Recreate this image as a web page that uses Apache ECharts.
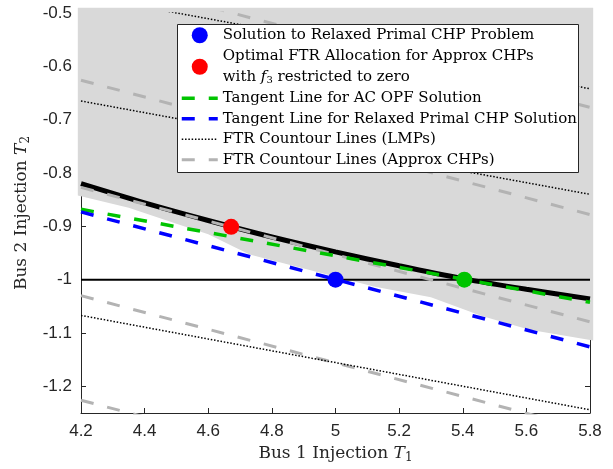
<!DOCTYPE html>
<html><head><meta charset="utf-8">
<script src="https://cdn.jsdelivr.net/npm/echarts@6/dist/echarts.min.js"></script>
<style>html,body{margin:0;padding:0;background:#fff}#c{width:613px;height:469px}</style>
</head><body><div id="c"></div>
<script>
// ---- data ----
const xTicks = [4.2, 4.4, 4.6, 4.8, 5.0, 5.2, 5.4, 5.6, 5.8];
const yTicks = [-1.2, -1.1, -1.0, -0.9, -0.8, -0.7, -0.6, -0.5];
const xLimits = [4.2, 5.8];
const yLimits = [-1.25, -0.5];

// feasible-region boundary (black curve)
const curveX = [4.2, 4.4, 4.6, 4.8, 5.0, 5.2, 5.4, 5.6, 5.8];
const curveY = [-0.820, -0.856, -0.889, -0.920, -0.948, -0.974, -0.998, -1.018, -1.036];

// straight lines: values at x = 4.2 and x = 5.8
const tangentAC = [-0.868, -1.0425];
const tangentRelaxed = [-0.873, -1.126];
const chpContours = [[-0.425, -0.677], [-0.626, -0.878], [-0.827, -1.079], [-1.030, -1.282], [-1.226, -1.478]];
const lmpContours = [[-0.467, -0.642], [-0.665, -0.840], [-1.067, -1.244]];
const refLineY = -1.0;

// points
const relaxedPoint = [5.0, -1.0];
const ftrPoint = [4.672, -0.901];
const acPoint = [5.405, -1.0];

// shaded region (lower boundary, top edge)
const regionX = [4.19, 4.35, 4.50, 4.60, 4.73, 4.94, 5.12, 5.30, 5.46, 5.61, 5.81];
const regionLowY = [-0.842, -0.865, -0.895, -0.915, -0.953, -0.985, -1.013, -1.033, -1.068, -1.094, -1.114];
const regionTopY = -0.49;

// legend names
const N_RELAX = 'Solution to Relaxed Primal CHP Problem';
const N_FTR = 'Optimal FTR Allocation for Approx CHPs';
const N_TAC = 'Tangent Line for AC OPF Solution';
const N_TREL = 'Tangent Line for Relaxed Primal CHP Solution';
const N_LMP = 'FTR Countour Lines (LMPs)';
const N_CHP = 'FTR Countour Lines (Approx CHPs)';

// ---- chart ----
const SERIF = 'DejaVu Serif';
const SANS = 'Liberation Sans';
const AX = '#262626';

function seg(v) { return [[xLimits[0], v[0]], [xLimits[1], v[1]]]; }

const series = [];
series.push({
  type: 'custom', silent: true, z: 1, data: [0],
  renderItem: function (params, api) {
    const pts = [api.coord([regionX[0], regionTopY]), api.coord([regionX[regionX.length - 1], regionTopY])];
    for (let i = regionX.length - 1; i >= 0; i--) pts.push(api.coord([regionX[i], regionLowY[i]]));
    return { type: 'polygon', shape: { points: pts }, style: { fill: '#d9d9d9' } };
  }
});
series.push({
  type: 'line', silent: true, z: 2, symbol: 'none', smooth: 0.3,
  data: curveX.map((x, i) => [x, curveY[i]]),
  lineStyle: { color: '#000', width: 5 }
});
series.push({
  type: 'line', silent: true, z: 2, symbol: 'none',
  data: [[xLimits[0], refLineY], [xLimits[1], refLineY]],
  lineStyle: { color: '#000', width: 2 }
});
chpContours.forEach(c => series.push({
  name: N_CHP, type: 'line', silent: true, z: 3, symbol: 'none', data: seg(c),
  lineStyle: { color: '#b3b3b3', width: 3, type: [13, 14], cap: 'butt' }, itemStyle: { color: '#b3b3b3' }
}));
lmpContours.forEach(c => series.push({
  name: N_LMP, type: 'line', silent: true, z: 3, symbol: 'none', data: seg(c),
  lineStyle: { color: '#000', width: 1.5, type: [1.5, 1.8], cap: 'butt' }, itemStyle: { color: '#000' }
}));
series.push({
  name: N_TAC, type: 'line', silent: true, z: 4, symbol: 'none', data: seg(tangentAC),
  lineStyle: { color: '#00c400', width: 3.5, type: [13, 14], cap: 'butt' }, itemStyle: { color: '#00c400' }
});
series.push({
  name: N_TREL, type: 'line', silent: true, z: 4, symbol: 'none', data: seg(tangentRelaxed),
  lineStyle: { color: '#0000ff', width: 3.5, type: [13, 14], cap: 'butt' }, itemStyle: { color: '#0000ff' }
});
series.push({
  name: N_RELAX, type: 'scatter', z: 5, symbol: 'circle', symbolSize: 16, data: [relaxedPoint],
  itemStyle: { color: '#0000ff', opacity: 1 }
});
series.push({
  name: N_FTR, type: 'scatter', z: 5, symbol: 'circle', symbolSize: 16, data: [ftrPoint],
  itemStyle: { color: '#ff0000', opacity: 1 }
});
series.push({
  name: 'AC OPF Solution', type: 'scatter', z: 5, symbol: 'circle', symbolSize: 16, data: [acPoint],
  itemStyle: { color: '#00c400', opacity: 1 }
});

const rich = {
  n: { fontFamily: SERIF, fontSize: 17, color: AX },
  i: { fontFamily: SERIF, fontSize: 17, fontStyle: 'italic', color: AX },
  s: { fontFamily: SERIF, fontSize: 12, color: AX, padding: [8, 0, 0, 0] }
};
const lrich = {
  t: { fontFamily: SERIF, fontSize: 15, color: '#000', lineHeight: 20.5 },
  u: { fontFamily: SERIF, fontSize: 15, color: '#000', lineHeight: 21.25 },
  i: { fontFamily: SERIF, fontSize: 15, fontStyle: 'italic', color: '#000', lineHeight: 21.25 },
  s: { fontFamily: SERIF, fontSize: 10, color: '#000', lineHeight: 21.25, padding: [7, 0, 0, 0] }
};
const hide = { opacity: 0, color: 'rgba(0,0,0,0)', borderWidth: 0 };

const option = {
  animation: false,
  backgroundColor: '#fff',
  grid: { left: 81, right: 23, top: 13, bottom: 56, containLabel: false },
  xAxis: [{
    type: 'value', min: xLimits[0], max: xLimits[1],
    axisLine: { show: true, onZero: false, lineStyle: { color: AX, width: 1 } },
    axisTick: { show: true, inside: true, length: 5, customValues: xTicks, lineStyle: { color: AX } },
    axisLabel: { customValues: xTicks, fontFamily: SANS, fontSize: 17, color: AX, margin: 10 },
    splitLine: { show: false },
    name: '{n|Bus 1 Injection }{i|T}{s|1}', nameLocation: 'middle', nameGap: 29,
    nameTextStyle: { rich: rich }
  }],
  yAxis: [{
    type: 'value', min: yLimits[0], max: yLimits[1],
    axisLine: { show: true, onZero: false, lineStyle: { color: AX, width: 1 } },
    axisTick: { show: true, inside: true, length: 5, customValues: yTicks, lineStyle: { color: AX } },
    axisLabel: { customValues: yTicks, fontFamily: SANS, fontSize: 17, color: AX, margin: 9 },
    splitLine: { show: false },
    name: '{n|Bus 2 Injection }{i|T}{s|2}', nameLocation: 'middle', nameGap: 46, nameRotate: 90,
    nameTextStyle: { rich: rich }
  }, {
    type: 'value', min: yLimits[0], max: yLimits[1], position: 'right',
    axisLine: { show: true, onZero: false, lineStyle: { color: AX, width: 1 } },
    axisTick: { show: true, inside: true, length: 5, customValues: yTicks, lineStyle: { color: AX } },
    axisLabel: { show: false },
    splitLine: { show: false }
  }],
  legend: {
    data: [
      { name: N_RELAX },
      { name: N_FTR },
      { name: N_TAC, itemStyle: hide, lineStyle: { width: 3.5 } },
      { name: N_TREL, itemStyle: hide, lineStyle: { width: 3.5 } },
      { name: N_LMP, itemStyle: hide, lineStyle: { width: 1.5 } },
      { name: N_CHP, itemStyle: hide, lineStyle: { width: 3 } }
    ],
    orient: 'vertical', left: 180, top: 25, padding: 0, itemGap: 0,
    itemWidth: 36, itemHeight: 16, selectedMode: false, z: 10,
    textStyle: { fontFamily: SERIF, fontSize: 15, color: '#000', lineHeight: 20.5, rich: lrich },
    formatter: function (name) {
      if (name === N_FTR) return '{u|' + N_FTR + '}\n{u|with }{i|f}{s|3}{u| restricted to zero}';
      return '{t|' + name + '}';
    }
  },
  graphic: [{
    type: 'rect', z: 9, shape: { x: 177.5, y: 24.5, width: 401, height: 148 },
    style: { fill: '#fff', stroke: '#262626', lineWidth: 1 }
  }],
  series: series
};
const chart = echarts.init(document.getElementById('c'));
chart.setOption(option);
</script>
</body></html>
